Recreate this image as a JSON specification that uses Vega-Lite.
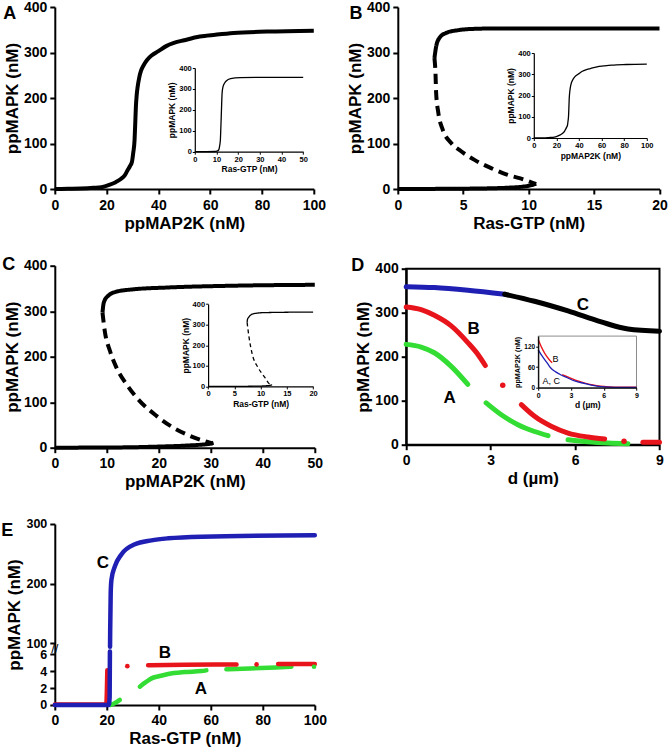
{
"$schema":"https://vega.github.io/schema/vega-lite/v6.json",
"padding":{"left":0.8,"top":0,"right":2,"bottom":2},
"background":"white",
"spacing":28,
"config":{
 "view":{"stroke":null},
 "font":"Liberation Sans",
 "axis":{"grid":false,"domainColor":"black","domainWidth":2,"tickColor":"black","tickWidth":2,"tickSize":5,"labelFont":"Liberation Sans","labelFontSize":14,"labelFontWeight":"bold","labelColor":"black","titleFont":"Liberation Sans","titleFontSize":17,"titleFontWeight":"bold","titleColor":"black","labelFlush":false,"labelOverlap":false},
 "axisX":{"labelPadding":4,"titlePadding":3},
 "axisY":{"labelPadding":3,"titlePadding":2},
 "title":{"font":"Liberation Sans","fontSize":18,"fontWeight":"bold","anchor":"start","frame":"group","offset":0,"color":"black","baseline":"alphabetic"},
 "text":{"font":"Liberation Sans","fontWeight":"bold","fontSize":17,"color":"black"}
},
"datasets":{
 "a":[{"x":0,"y":0},{"x":5,"y":0.5},{"x":10,"y":1},{"x":15,"y":2.5},{"x":18,"y":4},{"x":21,"y":9},{"x":23.5,"y":15},{"x":25.5,"y":22},{"x":27,"y":30},{"x":28,"y":40},{"x":29,"y":50},{"x":29.8,"y":60},{"x":30.3,"y":80},{"x":30.8,"y":108},{"x":31.1,"y":150},{"x":31.3,"y":180},{"x":31.6,"y":205},{"x":32,"y":225},{"x":32.6,"y":245},{"x":33.3,"y":260},{"x":34.3,"y":272},{"x":35.7,"y":284},{"x":37.5,"y":294},{"x":40,"y":303},{"x":43,"y":314},{"x":46,"y":321},{"x":50,"y":327},{"x":56,"y":335},{"x":62,"y":339},{"x":69,"y":343},{"x":82,"y":346},{"x":100,"y":348}],
 "ai":[{"x":0,"y":0},{"x":5,"y":0.3},{"x":9,"y":1},{"x":10.5,"y":4},{"x":11.1,"y":10},{"x":11.5,"y":30},{"x":11.8,"y":57},{"x":12,"y":110},{"x":12.2,"y":169},{"x":12.4,"y":230},{"x":12.6,"y":280},{"x":13,"y":310},{"x":13.7,"y":327},{"x":14.5,"y":338},{"x":16.5,"y":349},{"x":21,"y":354},{"x":30,"y":355},{"x":50,"y":355}],
 "b":[
  {"seg":"upper","branch":"stable","x":2.8,"y":288},{"seg":"upper","branch":"stable","x":2.93,"y":313},{"seg":"upper","branch":"stable","x":3.18,"y":332},{"seg":"upper","branch":"stable","x":3.69,"y":343},{"seg":"upper","branch":"stable","x":4.59,"y":349},{"seg":"upper","branch":"stable","x":5.86,"y":352},{"seg":"upper","branch":"stable","x":7.9,"y":353},{"seg":"upper","branch":"stable","x":20,"y":353},
  {"seg":"mid","branch":"unstable","x":2.8,"y":288},{"seg":"mid","branch":"unstable","x":2.88,"y":255},{"seg":"mid","branch":"unstable","x":2.93,"y":211},{"seg":"mid","branch":"unstable","x":3.1,"y":167},{"seg":"mid","branch":"unstable","x":3.44,"y":130},{"seg":"mid","branch":"unstable","x":4.08,"y":101},{"seg":"mid","branch":"unstable","x":4.84,"y":83},{"seg":"mid","branch":"unstable","x":5.86,"y":64},{"seg":"mid","branch":"unstable","x":7.13,"y":46},{"seg":"mid","branch":"unstable","x":8.4,"y":31},{"seg":"mid","branch":"unstable","x":9.68,"y":20.5},{"seg":"mid","branch":"unstable","x":10.57,"y":11},
  {"seg":"lower","branch":"stable","x":0,"y":0},{"seg":"lower","branch":"stable","x":4,"y":0.5},{"seg":"lower","branch":"stable","x":7,"y":1.5},{"seg":"lower","branch":"stable","x":8.5,"y":3},{"seg":"lower","branch":"stable","x":9.5,"y":5},{"seg":"lower","branch":"stable","x":10,"y":7},{"seg":"lower","branch":"stable","x":10.4,"y":10},{"seg":"lower","branch":"stable","x":10.57,"y":12}],
 "c":[
  {"seg":"upper","branch":"stable","x":9.17,"y":297},{"seg":"upper","branch":"stable","x":9.42,"y":319},{"seg":"upper","branch":"stable","x":10.26,"y":334},{"seg":"upper","branch":"stable","x":11.86,"y":343},{"seg":"upper","branch":"stable","x":15.06,"y":348},{"seg":"upper","branch":"stable","x":21.5,"y":352},{"seg":"upper","branch":"stable","x":34.3,"y":356},{"seg":"upper","branch":"stable","x":50,"y":358},
  {"seg":"mid","branch":"unstable","x":9.17,"y":297},{"seg":"mid","branch":"unstable","x":9.6,"y":257},{"seg":"mid","branch":"unstable","x":10.6,"y":213},{"seg":"mid","branch":"unstable","x":11.86,"y":176},{"seg":"mid","branch":"unstable","x":13.8,"y":139},{"seg":"mid","branch":"unstable","x":16.3,"y":103},{"seg":"mid","branch":"unstable","x":19.55,"y":70},{"seg":"mid","branch":"unstable","x":22.8,"y":44},{"seg":"mid","branch":"unstable","x":26,"y":26},{"seg":"mid","branch":"unstable","x":29.2,"y":13},{"seg":"mid","branch":"unstable","x":30.4,"y":9},
  {"seg":"lower","branch":"stable","x":0,"y":0},{"seg":"lower","branch":"stable","x":10,"y":0.5},{"seg":"lower","branch":"stable","x":15,"y":1},{"seg":"lower","branch":"stable","x":20,"y":2.5},{"seg":"lower","branch":"stable","x":25,"y":4.5},{"seg":"lower","branch":"stable","x":28,"y":6.5},{"seg":"lower","branch":"stable","x":30,"y":9},{"seg":"lower","branch":"stable","x":30.5,"y":11}],
 "ci":[
  {"seg":"upper","branch":"stable","x":7.43,"y":311},{"seg":"upper","branch":"stable","x":7.5,"y":325},{"seg":"upper","branch":"stable","x":7.8,"y":338},{"seg":"upper","branch":"stable","x":8.57,"y":352},{"seg":"upper","branch":"stable","x":10.5,"y":358},{"seg":"upper","branch":"stable","x":20,"y":361},
  {"seg":"mid","branch":"unstable","x":7.43,"y":311},{"seg":"mid","branch":"unstable","x":7.8,"y":238},{"seg":"mid","branch":"unstable","x":8.4,"y":157},{"seg":"mid","branch":"unstable","x":9.5,"y":92},{"seg":"mid","branch":"unstable","x":10.8,"y":44},{"seg":"mid","branch":"unstable","x":11.7,"y":11},{"seg":"mid","branch":"unstable","x":12,"y":6},
  {"seg":"lower","branch":"stable","x":0,"y":0},{"seg":"lower","branch":"stable","x":5,"y":0.3},{"seg":"lower","branch":"stable","x":9,"y":1},{"seg":"lower","branch":"stable","x":11,"y":3},{"seg":"lower","branch":"stable","x":12.2,"y":7}],
 "dm":[
  {"seg":"A1","x":0,"y":228},{"seg":"A1","x":0.53,"y":222},{"seg":"A1","x":1.0,"y":209},{"seg":"A1","x":1.6,"y":178},{"seg":"A1","x":2.19,"y":137},
  {"seg":"A2","x":2.84,"y":95},{"seg":"A2","x":3.38,"y":68},{"seg":"A2","x":3.97,"y":45.5},{"seg":"A2","x":4.56,"y":30},{"seg":"A2","x":5.04,"y":20.5},
  {"seg":"A3","x":5.75,"y":11.4},{"seg":"A3","x":6.46,"y":6.8},{"seg":"A3","x":7.17,"y":3.8},{"seg":"A3","x":7.88,"y":2.3},
  {"seg":"B1","x":0,"y":313},{"seg":"B1","x":0.53,"y":307},{"seg":"B1","x":1.0,"y":294},{"seg":"B1","x":1.6,"y":270},{"seg":"B1","x":2.19,"y":232},{"seg":"B1","x":2.55,"y":205},{"seg":"B1","x":2.81,"y":180},
  {"seg":"B2","x":4.09,"y":91},{"seg":"B2","x":4.56,"y":64.5},{"seg":"B2","x":5.15,"y":42},{"seg":"B2","x":5.75,"y":26.5},{"seg":"B2","x":6.46,"y":17.5},{"seg":"B2","x":7.05,"y":13},
  {"seg":"B3","x":8.41,"y":5.3},{"seg":"B3","x":9,"y":5.3},
  {"seg":"C1","x":0,"y":359},{"seg":"C1","x":1.0,"y":357},{"seg":"C1","x":2.19,"y":351},{"seg":"C1","x":3.5,"y":342},
  {"seg":"C2","x":3.5,"y":342},{"seg":"C2","x":4.56,"y":326},{"seg":"C2","x":5.75,"y":304},{"seg":"C2","x":6.93,"y":279},{"seg":"C2","x":7.88,"y":263},{"seg":"C2","x":9,"y":258}],
 "dp":[{"x":3.43,"y":135},{"x":7.74,"y":7.6}],
 "dl":[{"x":6.28,"y":316.5,"t":"C"},{"x":2.4,"y":262,"t":"B"},{"x":1.54,"y":106,"t":"A"}],
 "di":[
  {"seg":"B1","x":0,"y":140},{"seg":"B1","x":0.3,"y":118},{"seg":"B1","x":0.6,"y":100},{"seg":"B1","x":1.0,"y":82},{"seg":"B1","x":1.28,"y":72.6},
  {"seg":"B2","x":2.2,"y":38},{"seg":"B2","x":2.65,"y":32},{"seg":"B2","x":3.4,"y":22},{"seg":"B2","x":4.2,"y":14},{"seg":"B2","x":5,"y":8},{"seg":"B2","x":5.7,"y":4.5},{"seg":"B2","x":6.5,"y":2.5},{"seg":"B2","x":7.5,"y":1.5},{"seg":"B2","x":9,"y":1.3},
  {"seg":"AC","x":0,"y":110},{"seg":"AC","x":0.4,"y":90},{"seg":"AC","x":0.8,"y":73},{"seg":"AC","x":1.13,"y":58},{"seg":"AC","x":1.6,"y":46},{"seg":"AC","x":2.1,"y":37},{"seg":"AC","x":2.65,"y":29},{"seg":"AC","x":3.4,"y":19},{"seg":"AC","x":4.2,"y":12.6},{"seg":"AC","x":5,"y":6.5},{"seg":"AC","x":5.7,"y":3},{"seg":"AC","x":6.5,"y":1.5},{"seg":"AC","x":7.5,"y":1},{"seg":"AC","x":9,"y":1}],
 "dil":[{"x":1.59,"y":84,"t":"B"},{"x":1.19,"y":19,"t":"A, C"}],
 "em":[
  {"s":"A","seg":"A1","x":21.5,"y":0},{"s":"A","seg":"A1","x":23,"y":0.2},{"s":"A","seg":"A1","x":25,"y":0.6},
  {"s":"A","seg":"A2","x":32.7,"y":2.17},{"s":"A","seg":"A2","x":35,"y":2.7},{"s":"A","seg":"A2","x":37.2,"y":3.15},{"s":"A","seg":"A2","x":40,"y":3.4},{"s":"A","seg":"A2","x":43.6,"y":3.67},{"s":"A","seg":"A2","x":50,"y":3.9},{"s":"A","seg":"A2","x":56.4,"y":4.02},{"s":"A","seg":"A2","x":58.3,"y":4.1},
  {"s":"A","seg":"A3","x":66,"y":4.22},{"s":"A","seg":"A3","x":75,"y":4.33},{"s":"A","seg":"A3","x":85,"y":4.45},{"s":"A","seg":"A3","x":91,"y":4.53},
  {"s":"B","seg":"B0","x":0,"y":0.05},{"s":"B","seg":"B0","x":19.8,"y":0.1},{"s":"B","seg":"B0","x":20.2,"y":4.1},
  {"s":"B","seg":"B1","x":35.9,"y":4.7},{"s":"B","seg":"B1","x":50,"y":4.75},{"s":"B","seg":"B1","x":69.9,"y":4.8},
  {"s":"B","seg":"B2","x":85.9,"y":4.85},{"s":"B","seg":"B2","x":100,"y":4.85},
  {"s":"C","seg":"C1","x":0,"y":0},{"s":"C","seg":"C1","x":20.8,"y":0},{"s":"C","seg":"C1","x":21.1,"y":1},{"s":"C","seg":"C1","x":21.2,"y":30},
  {"s":"C","seg":"C2","x":21.25,"y":70},{"s":"C","seg":"C2","x":21.3,"y":120},{"s":"C","seg":"C2","x":21.5,"y":184},{"s":"C","seg":"C2","x":21.8,"y":207},{"s":"C","seg":"C2","x":23.1,"y":229},{"s":"C","seg":"C2","x":25.6,"y":249},{"s":"C","seg":"C2","x":30.8,"y":266},{"s":"C","seg":"C2","x":37.2,"y":272.5},{"s":"C","seg":"C2","x":43.6,"y":276},{"s":"C","seg":"C2","x":56.4,"y":278.8},{"s":"C","seg":"C2","x":100,"y":281}],
 "ep":[{"s":"B","x":27.9,"y":4.6},{"s":"B","x":77.6,"y":4.8},{"s":"A","x":99.7,"y":4.53}],
 "el":[{"x":18.5,"y":235,"t":"C"},{"x":42.3,"y":19,"t":"B"},{"x":56.2,"y":1.86,"t":"A"}],
 "eb":[{"x":0,"y":53,"t":"//"}]
},
"vconcat":[
 {"vconcat":[
  {"hconcat":[
   {"width":259,"height":182,
    "title":{"text":"A","dx":-51.5,"dy":27},
    "layer":[
     {"data":{"name":"a"},"mark":{"type":"line","strokeWidth":4,"color":"black","interpolate":"monotone"},
      "encoding":{"x":{"field":"x","type":"quantitative","scale":{"domain":[0,100],"nice":false},"axis":{"values":[0,20,40,60,80,100],"title":"ppMAP2K (nM)"}},
       "y":{"field":"y","type":"quantitative","scale":{"domain":[0,400],"nice":false},"axis":{"values":[0,100,200,300,400],"title":"ppMAPK (nM)"}}}},
     {"data":{"name":"ai"},"mark":{"type":"line","strokeWidth":1.3,"color":"black","interpolate":"monotone"},
      "encoding":{"x":{"field":"x","type":"quantitative","scale":{"domain":[0,50],"range":[140,248.4],"nice":false},"axis":{"labelFontSize":7.5,"titleFontSize":8.5,"domainWidth":1.2,"tickWidth":1,"tickSize":2.5,"labelPadding":1,"titlePadding":2,"orient":"bottom","offset":-37.3,"values":[0,10,20,30,40,50],"title":"Ras-GTP (nM)"}},
       "y":{"field":"y","type":"quantitative","scale":{"domain":[0,400],"range":[144.7,61],"nice":false},"axis":{"labelFontSize":7.5,"titleFontSize":8.5,"domainWidth":1.2,"tickWidth":1,"tickSize":2.5,"labelPadding":1,"titlePadding":2,"orient":"left","offset":-140,"values":[0,100,200,300,400],"title":"ppMAPK (nM)"}}}}
    ],
    "resolve":{"scale":{"x":"independent","y":"independent"},"axis":{"x":"independent","y":"independent"}}
   },
   {"width":261.7,"height":182,
    "title":{"text":"B","dx":-48.3,"dy":27},
    "layer":[
     {"data":{"name":"b"},"mark":{"type":"line","strokeWidth":4,"color":"black","interpolate":"monotone"},
      "encoding":{"x":{"field":"x","type":"quantitative","scale":{"domain":[0,20],"nice":false},"axis":{"values":[0,5,10,15,20],"title":"Ras-GTP (nM)"}},
       "y":{"field":"y","type":"quantitative","scale":{"domain":[0,400],"nice":false},"axis":{"values":[0,100,200,300,400],"title":"ppMAPK (nM)"}},
       "detail":{"field":"seg"},
       "strokeDash":{"field":"branch","type":"nominal","scale":{"domain":["stable","unstable"],"range":[[1,0],[10,6]]},"legend":null}}},
     {"data":{"name":"a"},"mark":{"type":"line","strokeWidth":1.3,"color":"black","interpolate":"monotone"},
      "encoding":{"x":{"field":"x","type":"quantitative","scale":{"domain":[0,100],"range":[136,249],"nice":false},"axis":{"labelFontSize":7.5,"titleFontSize":8.5,"domainWidth":1.2,"tickWidth":1,"tickSize":2.5,"labelPadding":1,"titlePadding":2,"orient":"bottom","offset":-51,"values":[0,20,40,60,80,100],"title":"ppMAP2K (nM)"}},
       "y":{"field":"y","type":"quantitative","scale":{"domain":[0,400],"range":[131,46],"nice":false},"axis":{"labelFontSize":7.5,"titleFontSize":8.5,"domainWidth":1.2,"tickWidth":1,"tickSize":2.5,"labelPadding":1,"titlePadding":2,"orient":"left","offset":-136,"values":[0,100,200,300,400],"title":"ppMAPK (nM)"}}}}
    ],
    "resolve":{"scale":{"x":"independent","y":"independent"},"axis":{"x":"independent","y":"independent"}}
   }
  ],"spacing":84,"bounds":"flush"},
  {"hconcat":[
   {"width":260,"height":182,
    "title":{"text":"C","dx":-52.6,"dy":19},
    "layer":[
     {"data":{"name":"c"},"mark":{"type":"line","strokeWidth":4,"color":"black","interpolate":"monotone"},
      "encoding":{"x":{"field":"x","type":"quantitative","scale":{"domain":[0,50],"nice":false},"axis":{"values":[0,10,20,30,40,50],"title":"ppMAP2K (nM)"}},
       "y":{"field":"y","type":"quantitative","scale":{"domain":[0,400],"nice":false},"axis":{"values":[0,100,200,300,400],"title":"ppMAPK (nM)"}},
       "detail":{"field":"seg"},
       "strokeDash":{"field":"branch","type":"nominal","scale":{"domain":["stable","unstable"],"range":[[1,0],[10,6]]},"legend":null}}},
     {"data":{"name":"ci"},"mark":{"type":"line","strokeWidth":1.3,"color":"black","interpolate":"monotone"},
      "encoding":{"x":{"field":"x","type":"quantitative","scale":{"domain":[0,20],"range":[153.3,258.3],"nice":false},"axis":{"labelFontSize":7.5,"titleFontSize":8.5,"domainWidth":1.2,"tickWidth":1,"tickSize":2.5,"labelPadding":1,"titlePadding":2,"orient":"bottom","offset":-61.3,"values":[0,5,10,15,20],"title":"Ras-GTP (nM)"}},
       "y":{"field":"y","type":"quantitative","scale":{"domain":[0,400],"range":[120.7,38.3],"nice":false},"axis":{"labelFontSize":7.5,"titleFontSize":8.5,"domainWidth":1.2,"tickWidth":1,"tickSize":2.5,"labelPadding":1,"titlePadding":2,"orient":"left","offset":-153.3,"values":[0,100,200,300,400],"title":"ppMAPK (nM)"}},
       "detail":{"field":"seg"},
       "strokeDash":{"field":"branch","type":"nominal","scale":{"domain":["stable","unstable"],"range":[[1,0],[4,3]]},"legend":null}}}
    ],
    "resolve":{"scale":{"x":"independent","y":"independent","strokeDash":"independent"},"axis":{"x":"independent","y":"independent"}}
   },
   {"width":253.3,"height":176,
    "view":{"stroke":"black","strokeWidth":2},
    "title":{"text":"D","dx":-55,"dy":17},
    "layer":[
     {"layer":[
      {"data":{"name":"dm"},"mark":{"type":"line","strokeWidth":5,"strokeCap":"round","interpolate":"monotone"},
       "encoding":{"x":{"field":"x","type":"quantitative","title":"d  (µm)","scale":{"domain":[0,9],"nice":false},"axis":{"values":[0,3,6,9]}},
        "y":{"field":"y","type":"quantitative","title":"ppMAPK  (nM)","scale":{"domain":[0,400],"nice":false},"axis":{"values":[0,100,200,300,400]}},
        "detail":{"field":"seg"},
        "color":{"field":"seg","type":"nominal","scale":{"domain":["A1","A2","A3","B1","B2","B3","C1","C2"],"range":["#33dd33","#33dd33","#33dd33","#e8141b","#e8141b","#e8141b","#1f1fb4","#000000"]},"legend":null}}},
      {"data":{"name":"dp"},"mark":{"type":"circle","size":30,"color":"#e8141b","opacity":1},
       "encoding":{"x":{"field":"x","type":"quantitative","title":"d  (µm)","scale":{"domain":[0,9],"nice":false}},
        "y":{"field":"y","type":"quantitative","title":"ppMAPK  (nM)","scale":{"domain":[0,400],"nice":false}}}},
      {"data":{"name":"dl"},"mark":{"type":"text","align":"center","baseline":"middle"},
       "encoding":{"x":{"field":"x","type":"quantitative","title":"d  (µm)","scale":{"domain":[0,9],"nice":false}},
        "y":{"field":"y","type":"quantitative","title":"ppMAPK  (nM)","scale":{"domain":[0,400],"nice":false}},
        "text":{"field":"t"}}}
     ]},
     {"layer":[
      {"data":{"values":[{}]},"mark":{"type":"rect","fillOpacity":0,"stroke":"#8c8c8c","strokeWidth":1},
       "encoding":{"x":{"datum":0,"type":"quantitative","title":"d (µm)","scale":{"domain":[0,9],"range":[132,230.3],"nice":false}},"x2":{"datum":9},
        "y":{"datum":0,"type":"quantitative","title":"ppMAP2K (nM)","scale":{"domain":[0,150],"range":[119,67.4],"nice":false}},"y2":{"datum":150}}},
      {"data":{"name":"di"},"mark":{"type":"line","strokeWidth":1.3,"interpolate":"monotone"},
       "encoding":{"x":{"field":"x","type":"quantitative","title":"d (µm)","scale":{"domain":[0,9],"range":[132,230.3],"nice":false},"axis":{"labelFontSize":7,"titleFontSize":8.5,"domainWidth":1.2,"tickWidth":1,"tickSize":2.5,"labelPadding":1,"titlePadding":2,"orient":"bottom","offset":-57,"values":[0,3,6,9],"zindex":1}},
        "y":{"field":"y","type":"quantitative","title":"ppMAP2K (nM)","scale":{"domain":[0,150],"range":[119,67.4],"nice":false},"axis":{"labelFontSize":6.5,"titleFontSize":7.2,"domainWidth":1.2,"tickWidth":1,"tickSize":2.5,"labelPadding":1,"titlePadding":2,"orient":"left","offset":-132,"values":[0,30,60,90,120,150],"zindex":1}},
        "detail":{"field":"seg"},
        "color":{"field":"seg","type":"nominal","scale":{"domain":["B1","B2","AC"],"range":["#e8141b","#e8141b","#1f1fb4"]},"legend":null}}},
      {"data":{"name":"dil"},"mark":{"type":"text","align":"center","baseline":"middle","fontSize":9,"fontWeight":"normal"},
       "encoding":{"x":{"field":"x","type":"quantitative","title":"d (µm)","scale":{"domain":[0,9],"range":[132,230.3],"nice":false}},
        "y":{"field":"y","type":"quantitative","title":"ppMAP2K (nM)","scale":{"domain":[0,150],"range":[119,67.4],"nice":false}},
        "text":{"field":"t"}}}
     ]}
    ],
    "resolve":{"scale":{"x":"independent","y":"independent","color":"independent"},"axis":{"x":"independent","y":"independent"}}
   }
  ],"spacing":91.4,"bounds":"flush","center":true}
 ],"spacing":24.7},
 {"width":260,"height":181,
  "title":{"text":"E","dx":-53.5,"dy":26},
  "layer":[
   {"data":{"name":"em"},"transform":[{"filter":{"field":"s","equal":"A"}}],"mark":{"type":"line","color":"#33dd33","strokeWidth":4.5,"strokeCap":"round","interpolate":"monotone"},
    "encoding":{"x":{"field":"x","type":"quantitative","title":"Ras-GTP  (nM)","scale":{"domain":[0,100],"nice":false},"axis":{"values":[0,20,40,60,80,100]}},
     "y":{"field":"y","type":"quantitative","title":"ppMAPK  (nM)","scale":{"type":"linear","domain":[0,6,100,300],"range":[181,130.3,119.3,0],"nice":false,"zero":false},"axis":{"values":[0,2,4,6,100,200,300],"labelFontSize":12.5}},
     "detail":{"field":"seg"}}},
   {"data":{"name":"em"},"transform":[{"filter":{"field":"s","equal":"B"}}],"mark":{"type":"line","color":"#e8141b","strokeWidth":4.5,"strokeCap":"round","interpolate":"monotone"},
    "encoding":{"x":{"field":"x","type":"quantitative","title":"Ras-GTP  (nM)","scale":{"domain":[0,100],"nice":false},"axis":{"values":[0,20,40,60,80,100]}},
     "y":{"field":"y","type":"quantitative","title":"ppMAPK  (nM)","scale":{"type":"linear","domain":[0,6,100,300],"range":[181,130.3,119.3,0],"nice":false,"zero":false},"axis":{"values":[0,2,4,6,100,200,300],"labelFontSize":12.5}},
     "detail":{"field":"seg"}}},
   {"data":{"name":"em"},"transform":[{"filter":{"field":"s","equal":"C"}}],"mark":{"type":"line","color":"#1f1fb4","strokeWidth":4.5,"strokeCap":"round","interpolate":"monotone"},
    "encoding":{"x":{"field":"x","type":"quantitative","title":"Ras-GTP  (nM)","scale":{"domain":[0,100],"nice":false},"axis":{"values":[0,20,40,60,80,100]}},
     "y":{"field":"y","type":"quantitative","title":"ppMAPK  (nM)","scale":{"type":"linear","domain":[0,6,100,300],"range":[181,130.3,119.3,0],"nice":false,"zero":false},"axis":{"values":[0,2,4,6,100,200,300],"labelFontSize":12.5}},
     "detail":{"field":"seg"}}},
   {"data":{"name":"ep"},"mark":{"type":"circle","size":22,"opacity":1},
    "encoding":{"x":{"field":"x","type":"quantitative","title":"Ras-GTP  (nM)","scale":{"domain":[0,100],"nice":false},"axis":{"values":[0,20,40,60,80,100]}},
     "y":{"field":"y","type":"quantitative","title":"ppMAPK  (nM)","scale":{"type":"linear","domain":[0,6,100,300],"range":[181,130.3,119.3,0],"nice":false,"zero":false},"axis":{"values":[0,2,4,6,100,200,300],"labelFontSize":12.5}},
     "color":{"field":"s","type":"nominal","scale":{"domain":["A","B"],"range":["#33dd33","#e8141b"]},"legend":null}}},
   {"data":{"name":"el"},"mark":{"type":"text","align":"center","baseline":"middle"},
    "encoding":{"x":{"field":"x","type":"quantitative","title":"Ras-GTP  (nM)","scale":{"domain":[0,100],"nice":false},"axis":{"values":[0,20,40,60,80,100]}},
     "y":{"field":"y","type":"quantitative","title":"ppMAPK  (nM)","scale":{"type":"linear","domain":[0,6,100,300],"range":[181,130.3,119.3,0],"nice":false,"zero":false},"axis":{"values":[0,2,4,6,100,200,300],"labelFontSize":12.5}},
     "text":{"field":"t"}}},
   {"data":{"name":"eb"},"mark":{"type":"text","align":"center","baseline":"middle","fontSize":13,"fontWeight":"normal"},
    "encoding":{"x":{"field":"x","type":"quantitative","title":"Ras-GTP  (nM)","scale":{"domain":[0,100],"nice":false},"axis":{"values":[0,20,40,60,80,100]}},
     "y":{"field":"y","type":"quantitative","title":"ppMAPK  (nM)","scale":{"type":"linear","domain":[0,6,100,300],"range":[181,130.3,119.3,0],"nice":false,"zero":false},"axis":{"values":[0,2,4,6,100,200,300],"labelFontSize":12.5}},
     "text":{"field":"t"}}}
  ]
 }
]
}
